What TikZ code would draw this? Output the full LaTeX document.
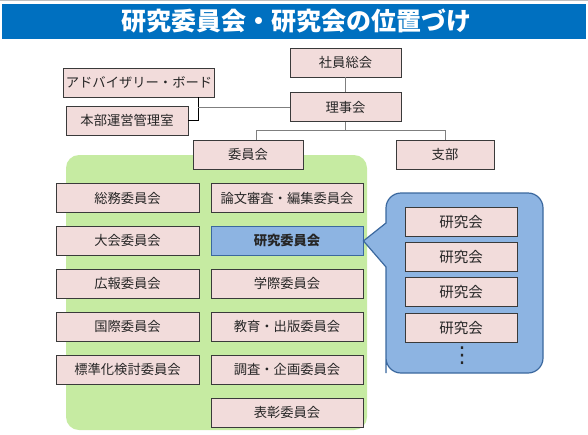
\documentclass[tikz,border=0pt]{standalone}
\usepackage{fontspec}
\setmainfont{Noto Sans CJK JP}
\newfontfamily\symfont{DejaVu Sans}
\usetikzlibrary{positioning,calc}
\definecolor{titleblue}{HTML}{0070C0}
\definecolor{boxpink}{HTML}{F2DCDB}
\definecolor{boxline}{HTML}{3A3A3A}
\definecolor{inkgrey}{HTML}{262626}
\definecolor{linkgrey}{HTML}{7F7F7F}
\definecolor{panelgreen}{HTML}{C6EBA2}
\definecolor{bluefill}{HTML}{8DB4E2}
\definecolor{bluedark}{HTML}{3B689E}
\tikzset{
  boxy/.style     = {draw=boxline, fill=boxpink, line width=0.9pt, minimum height=29pt,
                     inner sep=2pt, text=inkgrey, font=\fontsize{13.3}{15}\selectfont},
  leftbox/.style  = {boxy, minimum width=143pt},
  rightbox/.style = {boxy, minimum width=152pt},
  kaibox/.style   = {boxy, minimum width=112pt, font=\fontsize{14.5}{16}\selectfont},
  bluebox/.style  = {rightbox, fill=bluefill, draw=bluedark, font=\fontsize{13.3}{15}\selectfont\bfseries},
  link/.style     = {draw=linkgrey, line width=1pt},
  darklink/.style = {draw=black, line width=1pt},
  callout/.style  = {draw=bluedark, fill=bluefill, line width=1.2pt},
  panel/.style    = {fill=panelgreen, rounded corners=13pt},
  titletext/.style= {text=white, font=\fontsize{25}{28}\selectfont\bfseries},
}
\begin{document}
\begin{tikzpicture}[x=1pt,y=-1pt,node distance=13pt]
    \useasboundingbox (0,0) rectangle (588,434);
    \draw[gray!50, line width=1pt] (0,0.5) -- (588,0.5);
    \fill[titleblue] (2,4) rectangle (586,39);
    \node[titletext] (title) at (296,21.5) {研究委員会・研究会の位置づけ};

    \node[boxy,minimum width=111pt] (shain) at (345.5,62.5) {社員総会};
    \node[boxy,minimum width=111pt,below=15pt of shain] (riji) {理事会};
    \node[boxy,minimum width=146pt] (advisory) at (139,82.5) {アドバイザリー・ボード};
    \node[boxy,minimum width=122pt] (honbu) at (127,120.5) {本部運営管理室};
    \coordinate (advx) at ([xshift=59pt]advisory.south);
    \draw[darklink] (advisory.south -| advx) |- (honbu.east);
    \draw[link] (riji.west) -- (riji.west -| advx);
    \draw[link] (shain) -- (riji);

    \fill[panel] (66,155) rectangle (367,430);
    \node[boxy,minimum width=110pt] (iinkai) at (248,154.5) {委員会};
    \node[boxy,minimum width=98pt] (shibu) at (445,154.5) {支部};
    \coordinate (bus) at ($(riji.south)+(0,8)$);
    \draw[link] (riji.south) -- (bus);
    \draw[link] ([xshift=8pt]iinkai.north) |- (bus) -| (shibu.north);

    \node[leftbox] (somu) at (127.5,198) {総務委員会};
    \node[leftbox,below=of somu] (taikai) {大会委員会};
    \node[leftbox,below=of taikai] (koho) {広報委員会};
    \node[leftbox,below=of koho] (kokusai) {国際委員会};
    \node[leftbox,below=of kokusai] (hyojun) {標準化検討委員会};

    \node[rightbox] (ronbun) at (287,198) {論文審査・編集委員会};
    \node[bluebox,below=of ronbun] (kenkyu) {研究委員会};
    \node[rightbox,below=of kenkyu] (gakusai) {学際委員会};
    \node[rightbox,below=of gakusai] (kyoiku) {教育・出版委員会};
    \node[rightbox,below=of kyoiku] (chosa) {調査・企画委員会};
    \node[rightbox,below=of chosa] (hyosho) {表彰委員会};

    \draw[callout] (kenkyu.east) -- (386,223) -- (386,208) [rounded corners=15pt] -- (386,193)
        -- (543,193) -- (543,373) -- (386,373) -- (386,358) [sharp corners] -- (386,267) -- cycle;
    \node[kaibox] (kai1) at (461,222) {研究会};
    \node[kaibox,below=5.3pt of kai1] (kai2) {研究会};
    \node[kaibox,below=5.3pt of kai2] (kai3) {研究会};
    \node[kaibox,below=5.3pt of kai3] (kai4) {研究会};
    \node[text=inkgrey,font=\symfont\fontsize{22}{22}\selectfont] (dots) at (462,356) {⋮};
\end{tikzpicture}
\end{document}
